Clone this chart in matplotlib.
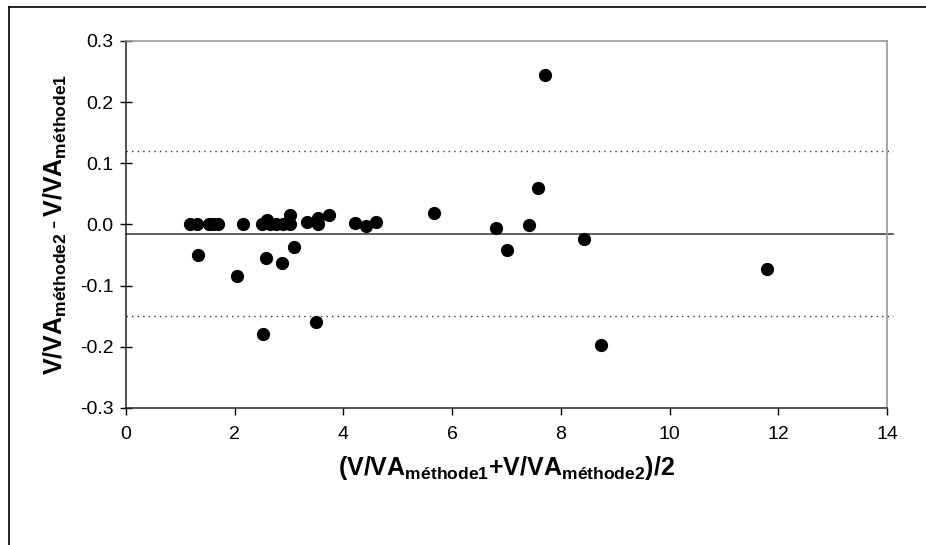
import matplotlib
matplotlib.use("Agg")
from matplotlib import pyplot as plt
from matplotlib.lines import Line2D

plt.rcParams["font.family"] = ["Liberation Sans", "DejaVu Sans"]
plt.rcParams["mathtext.fontset"] = "custom"
plt.rcParams["mathtext.rm"] = "Liberation Sans"
plt.rcParams["mathtext.bf"] = "Liberation Sans:bold"
plt.rcParams["axes.unicode_minus"] = False

# mean of the two methods (x) and difference (y)
mean_vals = [1.18, 1.30, 1.52, 1.60, 1.70, 2.16, 2.50, 2.59, 2.65, 2.76, 2.89, 3.02, 3.02,
             3.33, 3.54, 3.54, 3.74, 4.22, 4.42, 4.60,
             1.32, 2.04, 2.58, 2.87, 3.09, 2.52, 3.50,
             5.66, 6.81, 7.01, 7.42, 7.57, 7.70, 8.43, 8.73, 11.79]
diff_vals = [0.0, 0.0, 0.0, 0.0, 0.0, 0.0, 0.0, 0.008, 0.0, 0.0, 0.0, 0.0, 0.015,
             0.004, 0.0, 0.011, 0.015, 0.003, -0.002, 0.004,
             -0.050, -0.085, -0.055, -0.063, -0.037, -0.179, -0.160,
             0.019, -0.005, -0.041, -0.001, 0.059, 0.245, -0.023, -0.197, -0.073]

mean_diff = -0.015
upper_loa = 0.12
lower_loa = -0.15

fig = plt.figure(figsize=(9.26, 5.45), dpi=100)
ax = fig.add_axes([0.136, 0.2514, 0.822, 0.6734])

ax.plot(mean_vals, diff_vals, "o", color="black", markersize=8.5, zorder=3)

ax.axhline(mean_diff, xmax=1.008, color="#333333", linewidth=1.1, clip_on=False)
ax.axhline(upper_loa, xmax=1.008, color="#333333", linewidth=1, linestyle=(0, (1, 3)), clip_on=False)
ax.axhline(lower_loa, xmax=1.008, color="#333333", linewidth=1, linestyle=(0, (1, 3)), clip_on=False)

ax.set_xlim(0, 14)
ax.set_ylim(-0.3, 0.3)
ax.set_xticks([0, 2, 4, 6, 8, 10, 12, 14])
ax.set_yticks([-0.3, -0.2, -0.1, 0.0, 0.1, 0.2, 0.3])
ax.set_yticklabels(["%.1f" % v for v in [-0.3, -0.2, -0.1, 0.0, 0.1, 0.2, 0.3]])

ax.tick_params(axis="y", direction="inout", length=8, width=1, labelsize=14, pad=5)
ax.tick_params(axis="x", direction="out", length=5, width=1, labelsize=14, pad=8)

for side in ["left", "bottom"]:
    ax.spines[side].set_color("#222222")
    ax.spines[side].set_linewidth(1.1)
for side in ["top", "right"]:
    ax.spines[side].set_color("#999999")
    ax.spines[side].set_linewidth(1.2)

ax.set_xlabel(r"$\mathbf{(V/VA_{méthode1}{+}V/VA_{méthode2})/2}$", fontsize=18, labelpad=8)
ax.set_ylabel(r"$\mathbf{V/VA_{méthode2}\,\text{-}\,V/VA_{méthode1}}$", fontsize=18, labelpad=8)

# outer chart frame
fig.add_artist(Line2D([9 / 926, 9 / 926], [0, 1 - 7 / 545], transform=fig.transFigure, color="black", linewidth=1.2))
fig.add_artist(Line2D([9 / 926, 1], [1 - 7 / 545, 1 - 7 / 545], transform=fig.transFigure, color="black", linewidth=1.2))

fig.savefig("out.png", dpi=100)
